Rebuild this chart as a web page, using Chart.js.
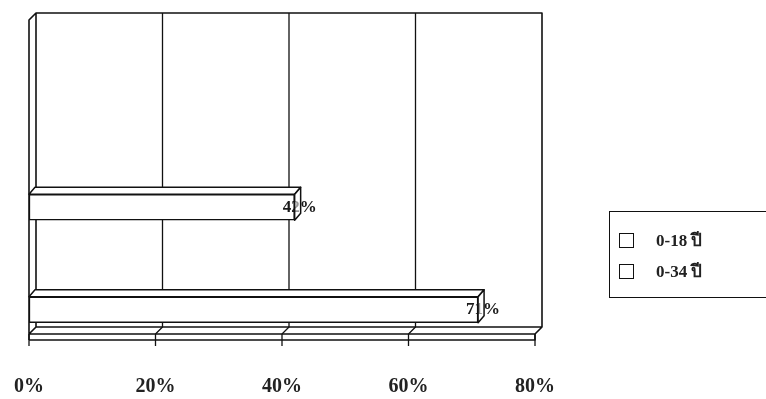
<!DOCTYPE html>
<html>
<head>
<meta charset="utf-8">
<script src="https://cdn.jsdelivr.net/npm/chart.js@4.4.1/dist/chart.umd.min.js"></script>
<style>
  html, body { margin: 0; padding: 0; background: #fff; }
  #wrap { position: relative; width: 766px; height: 399px; }
  #legend {
    position: absolute; left: 609px; top: 211px; width: 170px; height: 87px;
    border: 1.6px solid #111; border-right: none; box-sizing: border-box;
    font: bold 17px "Liberation Serif", "Noto Sans", serif; color: #222;
  }
  .item { position: absolute; left: 9px; height: 18px; line-height: 18px; white-space: nowrap; }
  .item span.box { position: absolute; left: 0; top: 1px; width: 13px; height: 13px; border: 1.6px solid #111; background: #fff; }
  .item span.txt { position: absolute; left: 37px; top: 0; }
</style>
</head>
<body>
<div id="wrap">
  <canvas id="chart" width="766" height="399"></canvas>
  <div id="legend"></div>
</div>
<script>
// données
const categories = ['0-18 ปี', '0-34 ปี'];
const values = [42, 71];
const xTicks = [0, 20, 40, 60, 80];

const datasets = categories.map((c, i) => ({
  label: c,
  data: categories.map((_, j) => (j === i ? values[i] : null)),
  backgroundColor: '#fff',
  borderColor: '#111',
  borderWidth: 1.5,
  borderSkipped: false,
  barThickness: 26,
  grouped: false
}));

// cadre 3D : mur du fond, mur gauche, plancher
const frame3d = {
  id: 'frame3d',
  beforeDatasetsDraw(chart, args, o) {
    const ctx = chart.ctx, xs = chart.scales.x;
    const px = v => xs.getPixelForValue(v);
    const x0 = px(xTicks[0]), x1 = px(xTicks[xTicks.length - 1]);
    const back = o.floor - o.dy;
    ctx.save();
    ctx.strokeStyle = '#111';
    ctx.lineWidth = 1.6;
    ctx.lineJoin = 'round';
    ctx.beginPath();
    // mur du fond
    ctx.moveTo(x0 + o.dx, back);
    ctx.lineTo(x0 + o.dx, o.top);
    ctx.lineTo(x1 + o.dx, o.top);
    ctx.lineTo(x1 + o.dx, back);
    // mur gauche
    ctx.moveTo(x0 + o.dx, o.top);
    ctx.lineTo(x0, o.top + o.dy);
    ctx.lineTo(x0, o.floor + o.slab);
    // plancher
    ctx.moveTo(x0 + o.dx, back);
    ctx.lineTo(x1 + o.dx, back);
    ctx.lineTo(x1, o.floor);
    ctx.lineTo(x0, o.floor);
    ctx.lineTo(x0 + o.dx, back);
    ctx.moveTo(x0, o.floor + o.slab);
    ctx.lineTo(x1, o.floor + o.slab);
    ctx.lineTo(x1, o.floor);
    ctx.stroke();
    // quadrillage
    ctx.lineWidth = 1.3;
    ctx.beginPath();
    xTicks.slice(1, -1).forEach(v => {
      const p = px(v);
      ctx.moveTo(p + o.dx, o.top);
      ctx.lineTo(p + o.dx, back);
      ctx.lineTo(p, o.floor);
    });
    // graduations
    xTicks.forEach(v => {
      const p = px(v);
      ctx.moveTo(p, o.floor);
      ctx.lineTo(p, o.floor + o.slab + 6);
    });
    ctx.stroke();
    ctx.restore();
  }
};

// faces 3D des barres + étiquettes
const bars3d = {
  id: 'bars3d',
  afterDatasetsDraw(chart, args, o) {
    const ctx = chart.ctx;
    ctx.save();
    ctx.strokeStyle = '#111';
    ctx.lineWidth = 1.5;
    ctx.lineJoin = 'round';
    chart.data.datasets.forEach((ds, i) => {
      const meta = chart.getDatasetMeta(i);
      meta.data.forEach((el, j) => {
        const v = ds.data[j];
        if (v == null) return;
        const { x, y, base, height } = el.getProps(['x', 'y', 'base', 'height'], true);
        const t = y - height / 2, b = y + height / 2;
        // face du dessus
        ctx.fillStyle = '#fff';
        ctx.beginPath();
        ctx.moveTo(base, t);
        ctx.lineTo(base + o.dx, t - o.dy);
        ctx.lineTo(x + o.dx, t - o.dy);
        ctx.lineTo(x, t);
        ctx.closePath();
        ctx.fill();
        ctx.stroke();
        // étiquette
        ctx.fillStyle = '#1a1a1a';
        ctx.font = 'bold 17px "Liberation Serif", serif';
        ctx.textAlign = 'center';
        ctx.textBaseline = 'middle';
        ctx.fillText(v + '%', x + 5, y);
        // face de bout
        ctx.fillStyle = 'rgba(255,255,255,0.55)';
        ctx.beginPath();
        ctx.moveTo(x, t);
        ctx.lineTo(x + o.dx, t - o.dy);
        ctx.lineTo(x + o.dx, b - o.dy);
        ctx.lineTo(x, b);
        ctx.closePath();
        ctx.fill();
        ctx.stroke();
      });
    });
    ctx.restore();
  }
};

const chart = new Chart(document.getElementById('chart'), {
  type: 'bar',
  data: { labels: categories, datasets: datasets },
  options: {
    indexAxis: 'y',
    responsive: false,
    animation: false,
    layout: { padding: { left: 28, right: 231, top: 156, bottom: -14 } },
    plugins: {
      legend: { display: false },
      tooltip: { enabled: false },
      frame3d: { top: 13, floor: 334, dx: 7, dy: 7, slab: 6 },
      bars3d: { dx: 6, dy: 7 }
    },
    scales: {
      y: { display: false, offset: true },
      x: {
        min: 0, max: 80,
        afterBuildTicks: s => { s.ticks = xTicks.map(v => ({ value: v })); },
        grid: { display: false, drawTicks: false },
        border: { display: false },
        ticks: {
          padding: 14,
          color: '#222',
          font: { family: '"Liberation Serif", serif', size: 20, weight: 'bold' },
          callback: v => v + '%'
        }
      }
    }
  },
  plugins: [frame3d, bars3d]
});

// légende HTML
const legend = document.getElementById('legend');
categories.forEach((c, i) => {
  const d = document.createElement('div');
  d.className = 'item';
  d.style.top = (20 + i * 31) + 'px';
  d.innerHTML = '<span class="box"></span><span class="txt"></span>';
  d.querySelector('.txt').textContent = c;
  legend.appendChild(d);
});
</script>
</body>
</html>
